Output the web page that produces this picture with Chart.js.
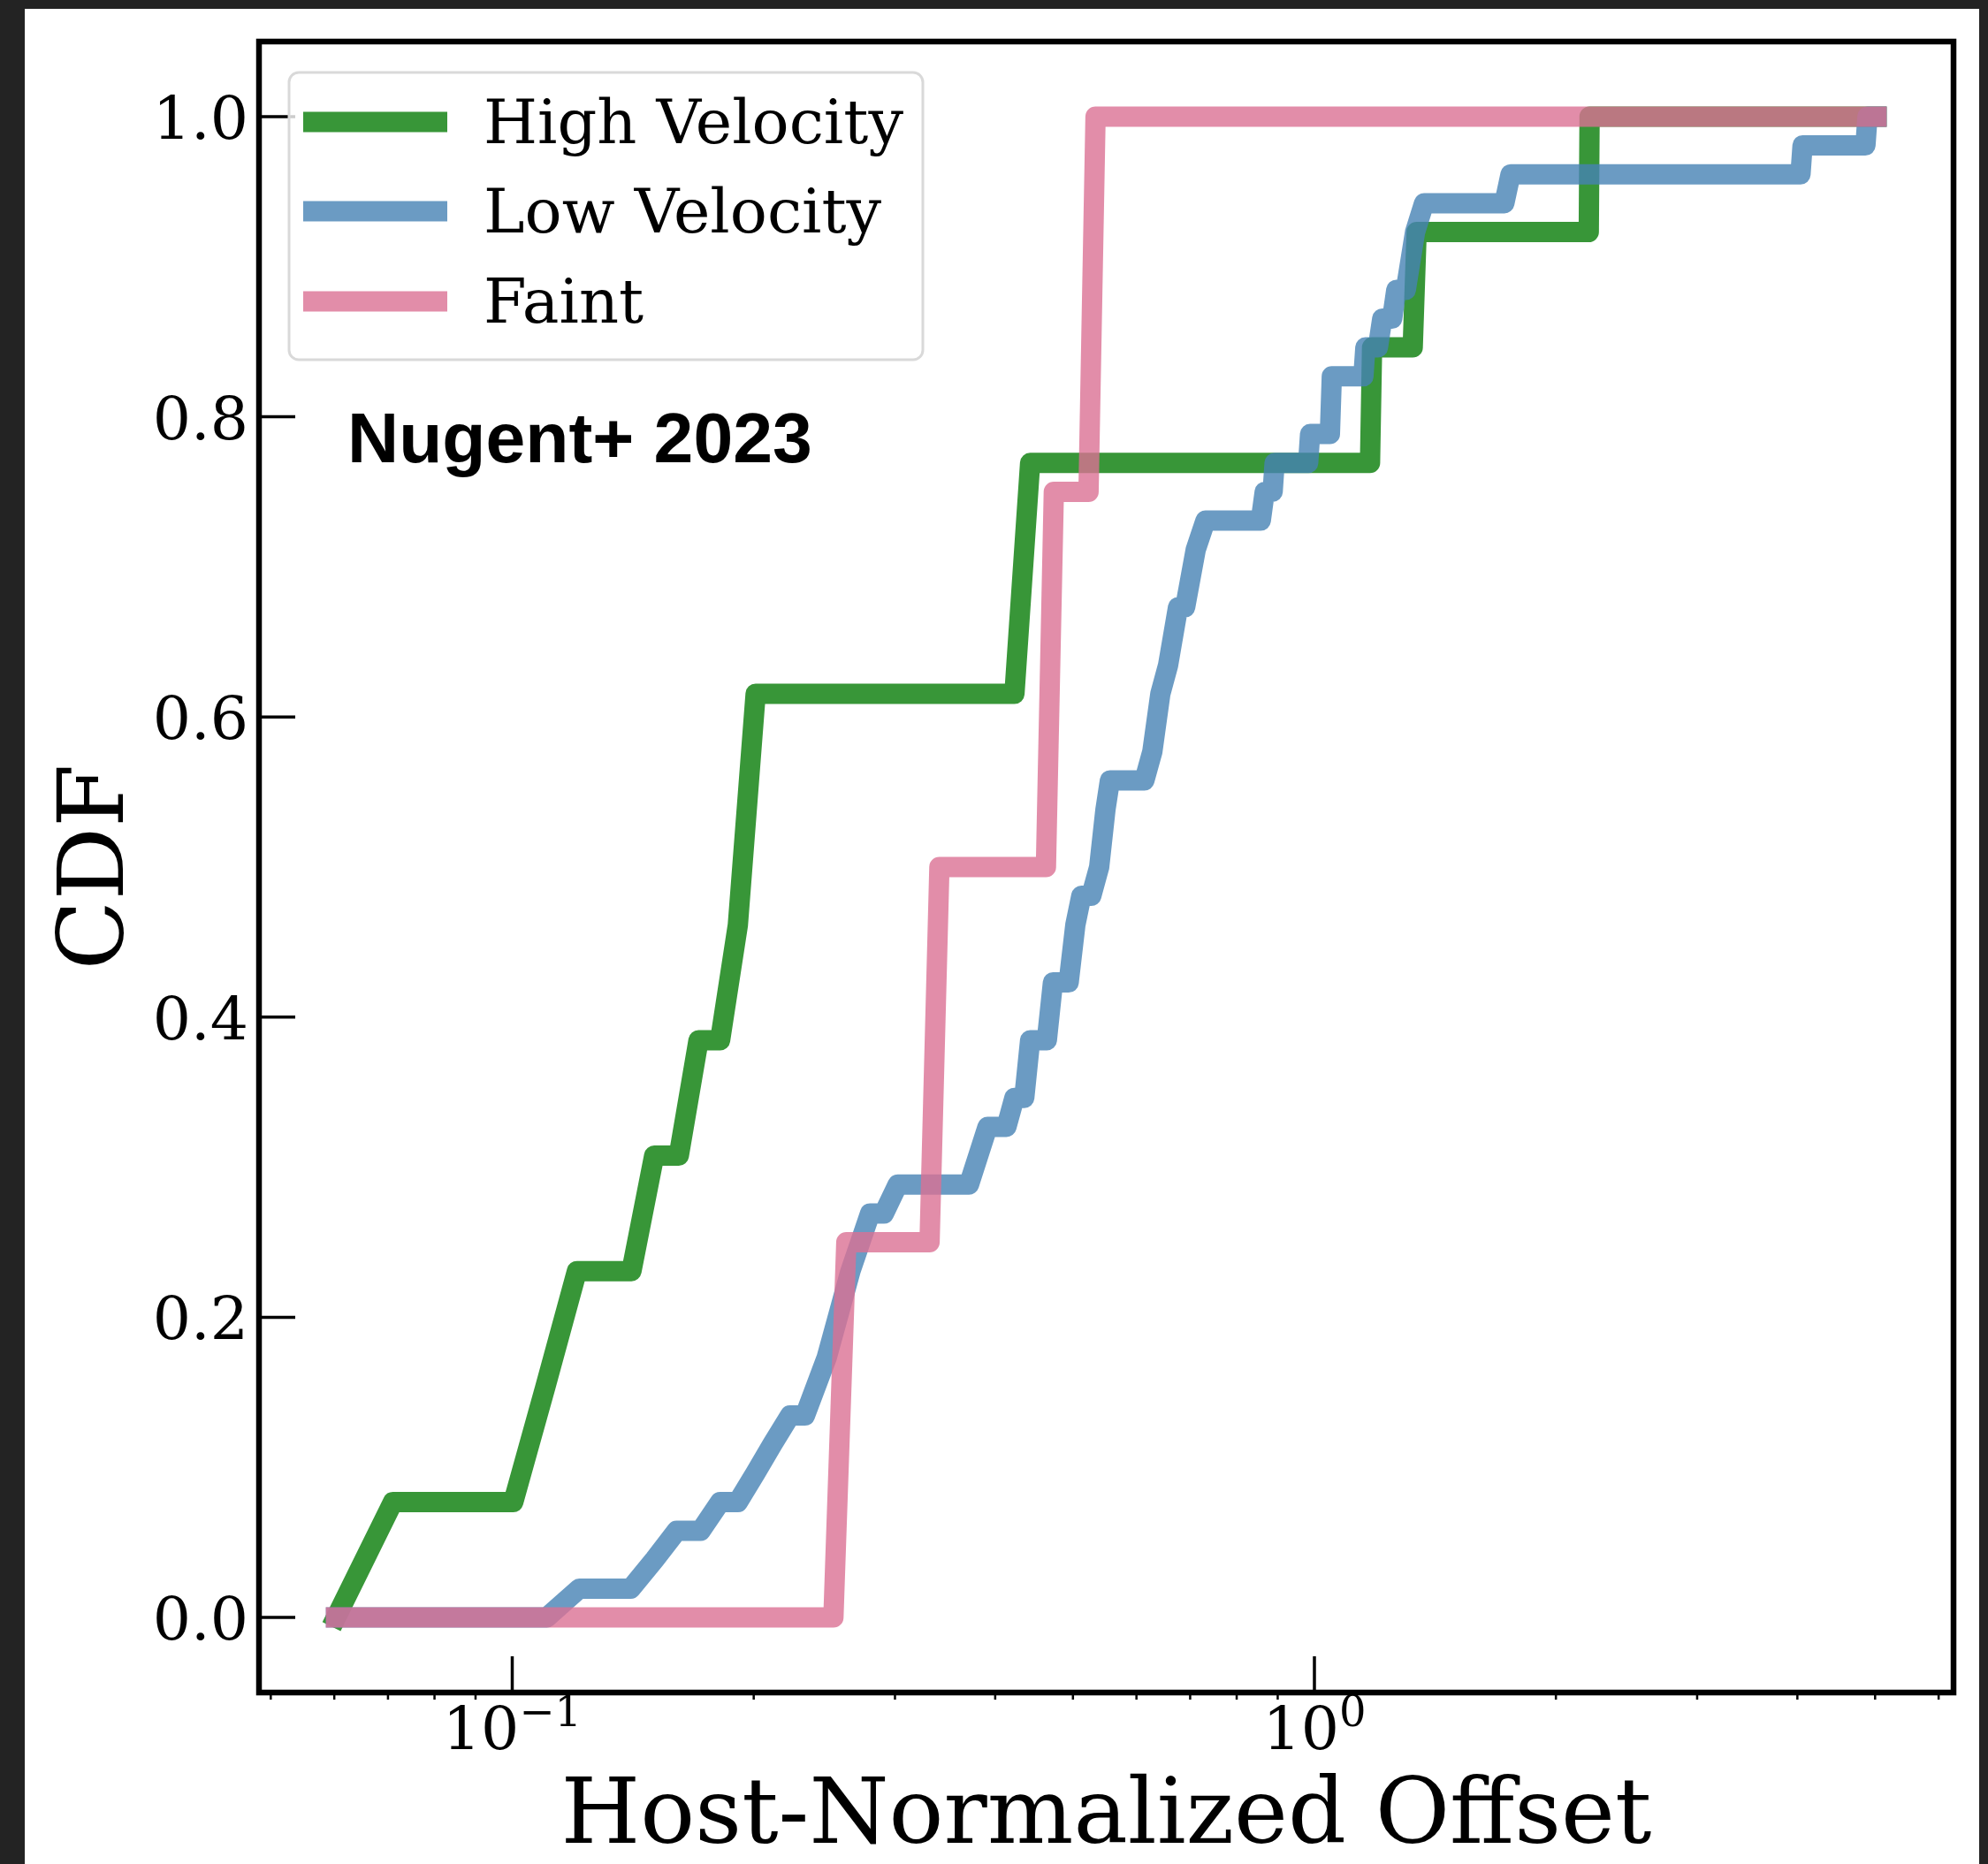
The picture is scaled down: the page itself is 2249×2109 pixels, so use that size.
<!DOCTYPE html>
<html>
<head>
<meta charset="utf-8">
<script src="https://cdn.jsdelivr.net/npm/chart.js@4/dist/chart.umd.min.js"></script>
<style>
  html, body { margin: 0; padding: 0; background: #232323; }
  canvas { display: block; }
</style>
</head>
<body>
<canvas id="myChart" width="2249" height="2109"></canvas>
<script>
// CDF vertices of host-normalized offsets, one pair of arrays per sample
const highVelX = [0.0603, 0.0710, 0.1003, 0.1100, 0.1204, 0.1408, 0.1503, 0.1613, 0.1707, 0.1816,
    0.1911, 0.2011, 0.4227, 0.4422, 1.173, 1.180, 1.326, 1.341, 2.198, 2.203, 5.02];
const highVelY = [0, 0.0769, 0.0769, 0.1538, 0.2308, 0.2308, 0.3077, 0.3077, 0.3846, 0.3846,
    0.4615, 0.6154, 0.6154, 0.7692, 0.7692, 0.8462, 0.8462, 0.9231, 0.9231, 1.0, 1.0];

const lowVelX = [0.0603, 0.1104, 0.1212, 0.1405, 0.1504, 0.1603, 0.1717, 0.1816, 0.1911, 0.2010,
    0.2110, 0.2220, 0.2317, 0.2466, 0.2640, 0.2793, 0.2906, 0.3024, 0.3710, 0.3913,
    0.4131, 0.4227, 0.4348, 0.4422, 0.4639, 0.4721, 0.4939, 0.5035, 0.5122, 0.5270,
    0.5391, 0.5490, 0.5560, 0.6138, 0.6280, 0.6426, 0.6571, 0.6761, 0.6900, 0.7113,
    0.7314, 0.8573, 0.8670, 0.8870, 0.8920, 0.9822, 0.9877, 1.0454, 1.0512, 1.151,
    1.1575, 1.200, 1.215, 1.250, 1.265, 1.300, 1.335, 1.370, 1.725, 1.756,
    4.036, 4.060, 4.863, 4.892, 5.02];
const lowVelY = [0, 0, 0.0192, 0.0192, 0.0385, 0.0577, 0.0577, 0.0769, 0.0769, 0.0962,
    0.1154, 0.1346, 0.1346, 0.1731, 0.2308, 0.2692, 0.2692, 0.2885, 0.2885, 0.3269,
    0.3269, 0.3462, 0.3462, 0.3846, 0.3846, 0.4231, 0.4231, 0.4615, 0.4808, 0.4808,
    0.5000, 0.5385, 0.5577, 0.5577, 0.5769, 0.6154, 0.6346, 0.6731, 0.6731, 0.7115,
    0.7308, 0.7308, 0.7500, 0.7500, 0.7692, 0.7692, 0.7885, 0.7885, 0.8269, 0.8269,
    0.8462, 0.8462, 0.8654, 0.8654, 0.8846, 0.8846, 0.9231, 0.9423, 0.9423, 0.9615,
    0.9615, 0.9808, 0.9808, 1.0, 1.0];

const faintX = [0.0603, 0.2514, 0.2609, 0.3313, 0.3408, 0.4627, 0.4733, 0.5229, 0.5335, 5.02];
const faintY = [0, 0, 0.25, 0.25, 0.5, 0.5, 0.75, 0.75, 1.0, 1.0];

const seriesNames = ['High Velocity', 'Low Velocity', 'Faint'];
const seriesColors = ['rgba(34, 139, 34, 0.9)', 'rgba(70, 130, 180, 0.8)', 'rgba(219, 112, 147, 0.8)'];

const yTicks = [0.0, 0.2, 0.4, 0.6, 0.8, 1.0];
const xMajorTicks = [0.1, 1];
const xMajorExp = ['\u22121', '0'];
const xMinorTicks = [0.05, 0.06, 0.07, 0.08, 0.09, 0.2, 0.3, 0.4, 0.5, 0.6, 0.7, 0.8, 0.9, 2, 3, 4, 5, 6];

const SERIF = '"DejaVu Serif"';

function toPoints(xs, ys) {
    return xs.map((x, i) => ({ x: x, y: ys[i] }));
}

// log axis padded by 5% of the data span on each side
const allX = highVelX.concat(lowVelX, faintX);
const logLo = Math.log10(Math.min(...allX));
const logHi = Math.log10(Math.max(...allX));
const logPad = 0.05 * (logHi - logLo);

const decorations = {
    id: 'decorations',
    beforeDraw(chart) {
        const ctx = chart.ctx;
        ctx.save();
        ctx.fillStyle = '#232323';
        ctx.fillRect(0, 0, chart.width, chart.height);
        ctx.fillStyle = '#ffffff';
        ctx.fillRect(28, 10, 2211, 2099);
        ctx.restore();
    },
    afterDraw(chart) {
        const ctx = chart.ctx;
        const area = chart.chartArea;
        const xs = chart.scales.x;
        const ys = chart.scales.y;
        ctx.save();

        // y ticks (inward) and labels
        ctx.strokeStyle = '#000';
        ctx.lineWidth = 3.5;
        ctx.fillStyle = '#000';
        ctx.font = '68px ' + SERIF;
        ctx.textAlign = 'right';
        ctx.textBaseline = 'alphabetic';
        yTicks.forEach(v => {
            const py = ys.getPixelForValue(v);
            ctx.beginPath();
            ctx.moveTo(area.left, py);
            ctx.lineTo(area.left + 41, py);
            ctx.stroke();
            ctx.fillText(v.toFixed(1), 281, py + 25);
        });

        // x major ticks (inward) with power-of-ten labels
        ctx.textAlign = 'left';
        xMajorTicks.forEach((v, i) => {
            const px = xs.getPixelForValue(v);
            ctx.beginPath();
            ctx.moveTo(px, area.bottom);
            ctx.lineTo(px, area.bottom - 41);
            ctx.stroke();
            ctx.font = '68px ' + SERIF;
            const wBase = ctx.measureText('10').width;
            ctx.font = '48px ' + SERIF;
            const wExp = ctx.measureText(xMajorExp[i]).width;
            const x0 = px - (wBase + wExp) / 2;
            ctx.font = '68px ' + SERIF;
            ctx.fillText('10', x0, 1979);
            ctx.font = '48px ' + SERIF;
            ctx.fillText(xMajorExp[i], x0 + wBase, 1953);
        });

        // x minor ticks, short and outward
        ctx.lineWidth = 2.5;
        xMinorTicks.forEach(v => {
            const px = xs.getPixelForValue(v);
            ctx.beginPath();
            ctx.moveTo(px, area.bottom);
            ctx.lineTo(px, area.bottom + 8);
            ctx.stroke();
        });

        // axes frame
        ctx.lineWidth = 6.5;
        ctx.strokeRect(area.left, area.top, area.right - area.left, area.bottom - area.top);

        // axis titles
        ctx.font = '103px ' + SERIF;
        ctx.textAlign = 'center';
        ctx.fillText('Host-Normalized Offset', (area.left + area.right) / 2, 2085);
        ctx.save();
        ctx.translate(139, (area.top + area.bottom) / 2);
        ctx.rotate(-Math.PI / 2);
        ctx.fillText('CDF', 0, 0);
        ctx.restore();

        // legend box
        ctx.beginPath();
        ctx.roundRect(327, 82, 717, 325, 11);
        ctx.fillStyle = 'rgba(255, 255, 255, 0.8)';
        ctx.fill();
        ctx.strokeStyle = '#d9d9d9';
        ctx.lineWidth = 3;
        ctx.stroke();

        const rowY = [138, 239, 341];
        ctx.font = '70px ' + SERIF;
        ctx.textAlign = 'left';
        seriesNames.forEach((name, i) => {
            ctx.strokeStyle = seriesColors[i];
            ctx.lineWidth = 23;
            ctx.lineCap = 'butt';
            ctx.beginPath();
            ctx.moveTo(343, rowY[i]);
            ctx.lineTo(506, rowY[i]);
            ctx.stroke();
            ctx.fillStyle = '#000';
            ctx.fillText(name, 547, rowY[i] + 24);
        });

        // source annotation
        ctx.font = 'bold 80.5px "Liberation Sans"';
        ctx.fillText('Nugent+ 2023', 393, 523);

        ctx.restore();
    }
};

function drawChart() {
    const ctx = document.getElementById('myChart').getContext('2d');
    const lineStyle = {
        borderWidth: 23,
        pointRadius: 0,
        tension: 0,
        fill: false,
        borderJoinStyle: 'round',
        borderCapStyle: 'square'
    };
    new Chart(ctx, {
        type: 'line',
        data: {
            datasets: [
                Object.assign({ label: seriesNames[0], data: toPoints(highVelX, highVelY), borderColor: seriesColors[0], order: 3 }, lineStyle),
                Object.assign({ label: seriesNames[1], data: toPoints(lowVelX, lowVelY), borderColor: seriesColors[1], order: 2 }, lineStyle),
                Object.assign({ label: seriesNames[2], data: toPoints(faintX, faintY), borderColor: seriesColors[2], order: 1 }, lineStyle)
            ]
        },
        options: {
            responsive: false,
            animation: false,
            devicePixelRatio: 1,
            layout: {
                padding: { left: 293, right: 39, top: 47, bottom: 194 }
            },
            scales: {
                x: {
                    type: 'logarithmic',
                    min: Math.pow(10, logLo - logPad),
                    max: Math.pow(10, logHi + logPad),
                    display: false
                },
                y: {
                    type: 'linear',
                    min: -0.05,
                    max: 1.05,
                    display: false
                }
            },
            plugins: {
                legend: { display: false },
                tooltip: { enabled: false }
            }
        },
        plugins: [decorations]
    });
}

drawChart();
</script>
</body>
</html>
